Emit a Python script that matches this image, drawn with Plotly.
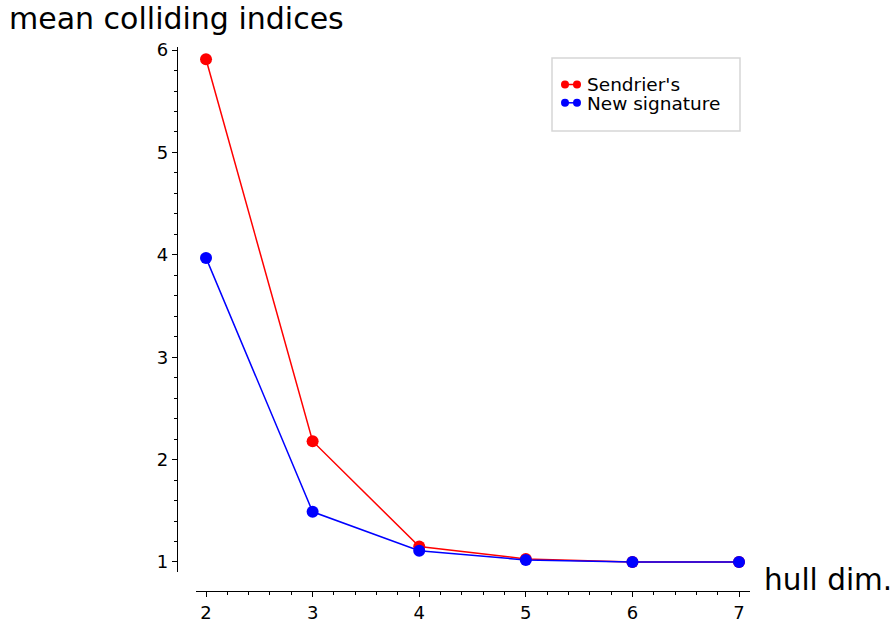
import plotly.graph_objects as go

hull_dim = [2, 3, 4, 5, 6, 7]
sendrier = [5.91, 2.18, 1.15, 1.03, 1.0, 1.0]
new_sig = [3.97, 1.49, 1.11, 1.02, 1.0, 1.0]
series_names = ["Sendrier's", "New signature"]
series_colors = ["#ff0000", "#0000ff"]
x_ticks = [2, 3, 4, 5, 6, 7]
y_ticks = [1, 2, 3, 4, 5, 6]

W, H = 896, 624
L, R, T, B = 177, 146, 47, 33
pw, ph = W - L - R, H - T - B

def px(x):
    return (x - L) / pw

def py(y):
    return (H - B - y) / ph

fig = go.Figure()
for name, vals, col in zip(series_names, [sendrier, new_sig], series_colors):
    fig.add_trace(go.Scatter(x=hull_dim, y=vals, mode="lines+markers", name=name, showlegend=False,
                             line=dict(color=col, width=1.5), marker=dict(color=col, size=12)))

tickfont = dict(family="DejaVu Sans", size=18, color="black")

shapes = [dict(type="rect", xref="paper", yref="paper",
               x0=px(552), x1=px(740), y0=py(131), y1=py(58),
               line=dict(color="#d6d6d6", width=1.5), fillcolor="rgba(255,255,255,0.8)", layer="below")]
annotations = [
    dict(text="mean colliding indices", xref="paper", yref="paper", x=px(7), y=py(18),
         xanchor="left", yanchor="middle", showarrow=False,
         font=dict(family="DejaVu Sans", size=30, color="black")),
    dict(text="hull dim.", xref="paper", yref="paper", x=px(762), y=py(580),
         xanchor="left", yanchor="middle", showarrow=False,
         font=dict(family="DejaVu Sans", size=29.5, color="black")),
]
# manual legend entries (matplotlib-style: two dots joined by a line)
for i, (name, col) in enumerate(zip(series_names, series_colors)):
    yc = 84.5 + 18.3 * i
    shapes.append(dict(type="line", xref="paper", yref="paper", x0=px(565), x1=px(577),
                       y0=py(yc), y1=py(yc), line=dict(color=col, width=1.5)))
    for cx in (565, 577):
        shapes.append(dict(type="circle", xref="paper", yref="paper",
                           x0=px(cx - 4), x1=px(cx + 4), y0=py(yc + 4), y1=py(yc - 4),
                           line=dict(color=col, width=0), fillcolor=col))
    annotations.append(dict(text=name, xref="paper", yref="paper", x=px(585), y=py(yc + 0.5),
                            xanchor="left", yanchor="middle", showarrow=False,
                            font=dict(family="DejaVu Sans", size=18.5, color="black")))

fig.update_layout(
    width=W, height=H,
    margin=dict(l=L, r=R, t=T, b=B, pad=0),
    paper_bgcolor="white", plot_bgcolor="white",
    font=dict(family="DejaVu Sans", color="black"),
    showlegend=False,
    xaxis=dict(domain=[px(196), 1], range=[1.906, 7.103], anchor="free", position=0, automargin=False,
               showline=True, linecolor="black", linewidth=1.2, showgrid=False, zeroline=False,
               tickmode="array", tickvals=x_ticks, ticktext=[str(v) for v in x_ticks],
               ticks="outside", ticklen=5, tickwidth=1.2, tickcolor="black", tickfont=tickfont,
               minor=dict(ticks="outside", ticklen=3, tickwidth=1, tickcolor="black", dtick=0.2, tick0=2, showgrid=False)),
    yaxis=dict(domain=[py(572), 1], range=[0.902, 6.03], anchor="free", position=0, automargin=False,
               showline=True, linecolor="black", linewidth=1.2, showgrid=False, zeroline=False,
               tickmode="array", tickvals=y_ticks, ticktext=[str(v) for v in y_ticks],
               ticks="outside", ticklen=5, tickwidth=1.2, tickcolor="black", tickfont=tickfont,
               minor=dict(ticks="outside", ticklen=3, tickwidth=1, tickcolor="black", dtick=0.2, tick0=1, showgrid=False)),
    shapes=shapes,
    annotations=annotations,
)

fig.write_html("out.html")
